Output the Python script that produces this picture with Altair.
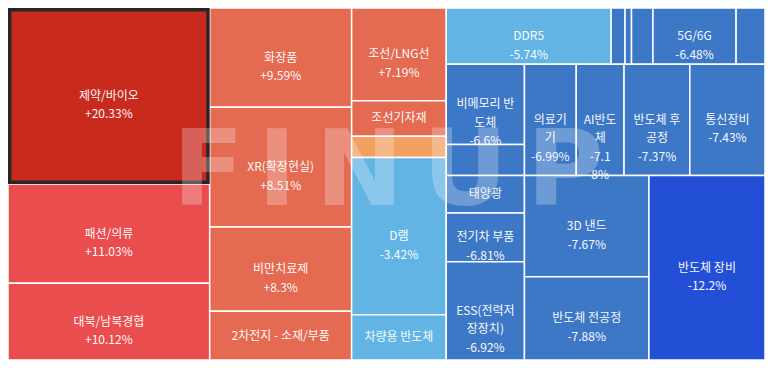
import altair as alt
import pandas as pd

# ---- data (ordered by daily change, as in the reference treemap) ----
names = ["제약/바이오", "패션/의류", "대북/남북경협", "화장품", "XR(확장현실)", "비만치료제",
         "2차전지 - 소재/부품", "조선/LNG선", "조선기자재", "", "D램", "차량용 반도체",
         "DDR5", "", "", "", "5G/6G", "", "비메모리 반도체", "", "태양광", "전기차 부품",
         "ESS(전력저장장치)", "의료기기", "AI반도체", "반도체 후공정", "통신장비", "3D 낸드",
         "반도체 전공정", "반도체 장비"]
changes = [20.33, 11.03, 10.12, 9.59, 8.51, 8.3, 7.5, 7.19, 6.5, 2.1, -3.42, -4.5,
           -5.74, -6.1, -6.2, -6.3, -6.48, -6.55, -6.6, -6.7, -6.75, -6.81,
           -6.92, -6.99, -7.18, -7.37, -7.43, -7.67, -7.88, -12.2]
sizes = [35741, 20149, 15593, 14179, 17134, 12041, 6950, 8835, 3373, 2043, 14963, 4323,
         9351, 791, 367, 1215, 4718, 1639, 6319, 2434, 2944, 3847,
         7732, 5798, 5352, 7359, 8418, 12688, 10438, 21553]
labels = ["제약/바이오\n+20.33%", "패션/의류\n+11.03%", "대북/남북경협\n+10.12%", "화장품\n+9.59%",
          "XR(확장현실)\n+8.51%", "비만치료제\n+8.3%", "2차전지 - 소재/부품", "조선/LNG선\n+7.19%",
          "조선기자재", "", "D램\n-3.42%", "차량용 반도체", "DDR5\n-5.74%", "", "", "",
          "5G/6G\n-6.48%", "", "비메모리 반\n도체\n-6.6%", "", "태양광", "전기차 부품\n-6.81%",
          "ESS(전력저\n장장치)\n-6.92%", "의료기\n기\n-6.99%", "AI반도\n체\n-7.1\n8%",
          "반도체 후\n공정\n-7.37%", "통신장비\n-7.43%", "3D 낸드\n-7.67%",
          "반도체 전공정\n-7.88%", "반도체 장비\n-12.2%"]
selected = "제약/바이오"
watermark_text = "FINUP"

W, H = 760.0, 353.0


def squarify(values, x0, y0, x1, y1, ratio=(1 + 5 ** 0.5) / 2):
    """d3.treemapSquarify layout (values kept in given order)."""
    out = [None] * len(values)
    value = float(sum(values))
    n = len(values)
    i0 = i1 = 0
    while i0 < n:
        dx, dy = x1 - x0, y1 - y0
        sumv = values[i1]
        i1 += 1
        minv = maxv = sumv
        alpha = max(dy / dx, dx / dy) / (value * ratio)
        beta = sumv * sumv * alpha
        minr = max(maxv / beta, beta / minv)
        while i1 < n:
            nv = values[i1]
            sumv += nv
            minv = min(minv, nv)
            maxv = max(maxv, nv)
            beta = sumv * sumv * alpha
            newr = max(maxv / beta, beta / minv)
            if newr > minr:
                sumv -= nv
                break
            minr = newr
            i1 += 1
        row = range(i0, i1)
        if dx < dy:
            yb = y0 + dy * sumv / value
            xx = x0
            for i in row:
                w = (x1 - x0) * values[i] / sumv
                out[i] = (xx, y0, xx + w, yb)
                xx += w
            y0 = yb
        else:
            xb = x0 + dx * sumv / value
            yy = y0
            for i in row:
                h = (y1 - y0) * values[i] / sumv
                out[i] = (x0, yy, xb, yy + h)
                yy += h
            x0 = xb
        value -= sumv
        i0 = i1
    return out


cells = squarify(sizes, 0.0, 0.0, W, H)
df = pd.DataFrame({
    "idx": list(range(len(sizes))),
    "name": names,
    "change": changes,
    "size": sizes,
    "label": labels,
    "x0": [c[0] for c in cells],
    "y0": [c[1] for c in cells],
    "x1": [c[2] for c in cells],
    "y1": [c[3] for c in cells],
})
df["cx"] = (df.x0 + df.x1) / 2
df["cy"] = (df.y0 + df.y1) / 2
df["hl"] = df.name == selected

xs = alt.Scale(domain=[0, W], nice=False, zero=False)
ys = alt.Scale(domain=[0, H], reverse=True, nice=False, zero=False)
color_scale = alt.Scale(
    type="threshold",
    domain=[-10, -6, 0, 5, 10, 20],
    range=["#234fd6", "#3d78c7", "#62b4e4", "#f2a062", "#e46a51", "#ea4d4e", "#c82a1e"],
)

base = alt.Chart(df)

tiles = base.mark_rect(stroke="white", strokeWidth=1.5).encode(
    x=alt.X("x0:Q", scale=xs, axis=None),
    x2="x1:Q",
    y=alt.Y("y0:Q", scale=ys, axis=None),
    y2="y1:Q",
    color=alt.Color("change:Q", scale=color_scale, legend=None),
    tooltip=["name:N", "change:Q"],
)

highlight = base.transform_filter("datum.hl").transform_calculate(
    hx0="datum.x0 + 1.7", hx1="datum.x1 - 1.7", hy0="datum.y0 + 1.7", hy1="datum.y1 - 1.7"
).mark_rect(fillOpacity=0, stroke="#262626", strokeWidth=3.4).encode(
    x=alt.X("hx0:Q", scale=xs, axis=None),
    x2="hx1:Q",
    y=alt.Y("hy0:Q", scale=ys, axis=None),
    y2="hy1:Q",
)

# watermark: letter-spaced logo text (decoration, placed in pixels)
wm_size = 105
wm_adv = {"F": 0.576, "I": 0.372, "N": 0.837, "U": 0.812, "P": 0.733}
wm_gap = 19
cursor = 170.0
wm_x = []
for ch in watermark_text:
    w = wm_adv[ch] * wm_size
    wm_x.append(cursor + w / 2)
    cursor += w + wm_gap
wm_df = pd.DataFrame({"t": list(watermark_text), "px": wm_x})
watermark = alt.Chart(wm_df).mark_text(
    font="DejaVu Sans", fontWeight="bold", fontSize=wm_size, color="white", opacity=0.26,
    align="center", baseline="alphabetic",
).encode(
    x=alt.X("px:Q", scale=None),
    y=alt.value(197),
    text="t:N",
)

text = base.transform_filter("datum.label != ''").mark_text(
    font="Noto Sans CJK KR", fontSize=12, color="#ffffff", opacity=0.96,
    lineBreak="\n", lineHeight=18.5, align="center", baseline="middle",
).encode(
    x=alt.X("cx:Q", scale=xs, axis=None),
    y=alt.Y("cy:Q", scale=ys, axis=None),
    text="label:N",
)

chart = alt.layer(tiles, highlight, watermark, text).resolve_scale(x="independent").properties(
    width=757, height=352, padding=0,
    autosize=alt.AutoSizeParams(type="none"),
    background="#f3f5f9",
).configure_view(stroke=None)

chart.save("out.html", embed_options={"renderer": "svg", "actions": False})
